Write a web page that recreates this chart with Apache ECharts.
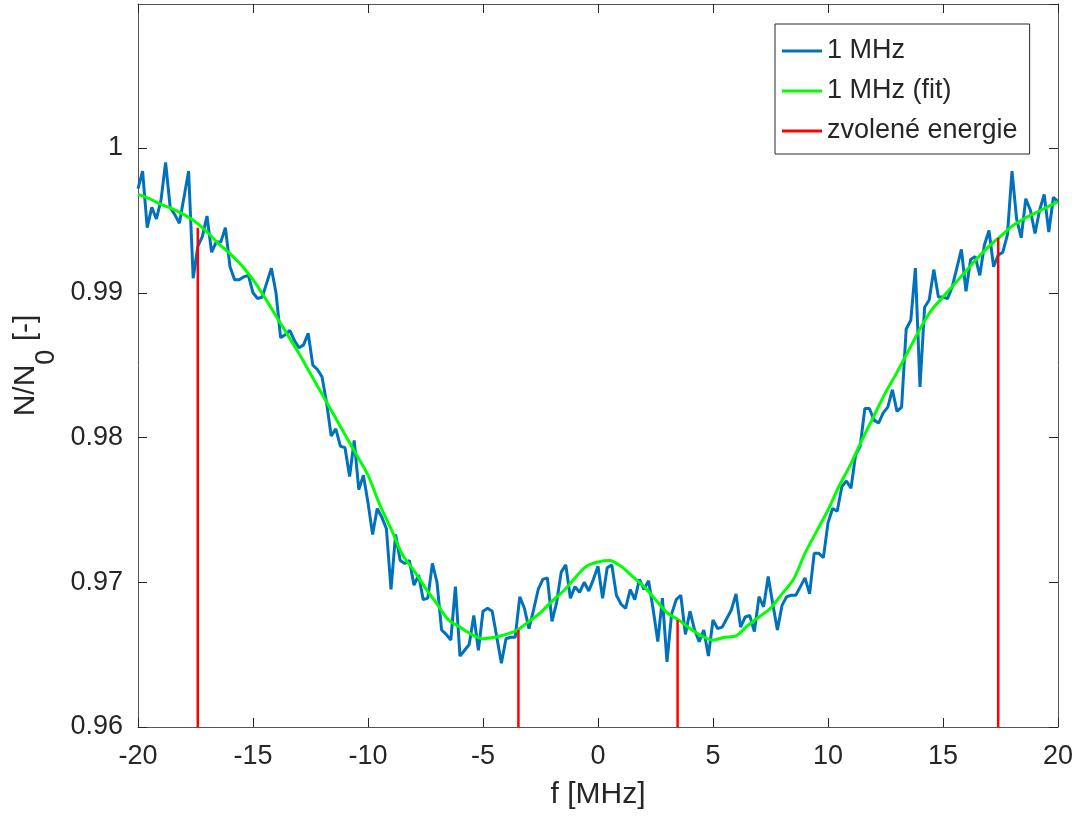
<!DOCTYPE html>
<html><head><meta charset="utf-8">
<script src="https://cdn.jsdelivr.net/npm/echarts@6/dist/echarts.min.js"></script>
<style>html,body{margin:0;padding:0;background:#fff}#c{width:1081px;height:816px}</style>
</head><body><div id="c"></div>
<script>
// measured N/N0, sampled from -20 MHz in 0.2 MHz steps
const freqStart = -20, freqStep = 0.2;
const measured = [
0.9972,0.9984,0.9945,0.9959,0.9951,0.9964,0.9990,0.9959,0.9954,0.9948,
0.9966,0.9984,0.9910,0.9932,0.9939,0.9953,0.9928,0.9935,0.9935,0.9945,
0.9918,0.9909,0.9909,0.9911,0.9912,0.9900,0.9896,0.9897,0.9907,0.9917,
0.9900,0.9869,0.9871,0.9874,0.9867,0.9862,0.9864,0.9872,0.9850,0.9847,
0.9842,0.9824,0.9801,0.9806,0.9794,0.9793,0.9773,0.9798,0.9764,0.9774,
0.9755,0.9733,0.9751,0.9745,0.9737,0.9695,0.9733,0.9715,0.9713,0.9715,
0.9698,0.9705,0.9688,0.9689,0.9713,0.9700,0.9667,0.9664,0.9660,0.9697,
0.9649,0.9653,0.9657,0.9677,0.9653,0.9680,0.9682,0.9680,0.9662,0.9644,
0.9661,0.9662,0.9662,0.9690,0.9682,0.9668,0.9681,0.9695,0.9702,0.9703,
0.9673,0.9686,0.9707,0.9712,0.9689,0.9697,0.9693,0.9700,0.9694,0.9702,
0.9711,0.9689,0.9710,0.9712,0.9691,0.9685,0.9682,0.9695,0.9688,0.9702,
0.9695,0.9701,0.9681,0.9659,0.9689,0.9645,0.9678,0.9688,0.9691,0.9664,
0.9680,0.9667,0.9659,0.9667,0.9649,0.9674,0.9668,0.9669,0.9675,0.9681,
0.9692,0.9669,0.9676,0.9677,0.9666,0.9690,0.9683,0.9704,0.9685,0.9667,
0.9684,0.9690,0.9691,0.9691,0.9697,0.9703,0.9692,0.9720,0.9720,0.9717,
0.9741,0.9751,0.9749,0.9766,0.9770,0.9765,0.9788,0.9794,0.9820,0.9820,
0.9812,0.9810,0.9817,0.9821,0.9833,0.9818,0.9821,0.9875,0.9881,0.9917,
0.9835,0.9890,0.9895,0.9916,0.9897,0.9897,0.9896,0.9904,0.9917,0.9930,
0.9901,0.9923,0.9925,0.9912,0.9933,0.9943,0.9918,0.9926,0.9928,0.9940,
0.9984,0.9951,0.9938,0.9965,0.9957,0.9941,0.9957,0.9968,0.9942,0.9966,
0.9963];
// fitted curve, sampled from -20 MHz in 0.5 MHz steps
const fitStart = -20, fitStep = 0.5;
const fitted = [
0.9968,0.9965,0.9961,0.9958,0.9954,0.9949,0.9942,0.9934,0.9927,0.9919,
0.9909,0.9897,0.9884,0.9871,0.9858,0.9844,0.9830,0.9816,0.9802,0.9788,
0.9774,0.9754,0.9737,0.9719,0.9708,0.9696,0.9685,0.9674,0.9669,0.9664,
0.9661,0.9662,0.9664,0.9667,0.9673,0.9679,0.9687,0.9694,0.9703,0.9711,
0.9714,0.9715,0.9711,0.9704,0.9697,0.9688,0.9679,0.9674,0.9668,0.9663,
0.9660,0.9662,0.9663,0.9670,0.9676,0.9682,0.9692,0.9702,0.9720,0.9735,
0.9750,0.9767,0.9782,0.9799,0.9815,0.9831,0.9845,0.9860,0.9875,0.9888,
0.9897,0.9906,0.9915,0.9924,0.9932,0.9939,0.9946,0.9951,0.9955,0.9959,
0.9963];
// chosen energies (vertical markers)
const energyF = [-17.4, -3.46, 3.46, 17.4];
const energyTop = [0.9945, 0.9667, 0.9674, 0.9938];
const yMin = 0.96;

const seriesNames = ['1 MHz', '1 MHz (fit)', 'zvolené energie'];
const xTicks = { min: -20, max: 20, interval: 5 };
const yTicks = { min: 0.96, max: 1.00995, interval: 0.01 };

const FONT = 'Liberation Sans';
const TXT = '#262626';
const AX = '#555';

const measData = measured.map((v, i) => [freqStart + i * freqStep, v]);
const fitData = fitted.map((v, i) => [fitStart + i * fitStep, v]);

const series = [
  { name: seriesNames[0], type: 'line', data: measData, showSymbol: false, symbol: 'none',
    lineStyle: { color: '#0072BD', width: 3 }, itemStyle: { color: '#0072BD' }, z: 2, animation: false },
  { name: seriesNames[1], type: 'line', data: fitData, showSymbol: false, symbol: 'none', smooth: 0.3,
    lineStyle: { color: '#00FF00', width: 3 }, itemStyle: { color: '#00FF00' }, z: 3, animation: false }
];
energyF.forEach((f, i) => {
  series.push({ name: seriesNames[2], type: 'line', data: [[f, yMin], [f, energyTop[i]]],
    showSymbol: false, symbol: 'none', lineStyle: { color: '#FF0000', width: 2.5 },
    itemStyle: { color: '#FF0000' }, z: 4, animation: false });
});

const baseX = (pos) => ({
  type: 'value', position: pos, min: xTicks.min, max: xTicks.max, interval: xTicks.interval,
  axisLine: { show: true, onZero: false, lineStyle: { color: AX, width: 1 } },
  axisTick: { show: true, inside: true, length: 9, lineStyle: { color: TXT } },
  splitLine: { show: false }
});
const baseY = (pos) => ({
  type: 'value', position: pos, min: yTicks.min, max: yTicks.max, interval: yTicks.interval,
  axisLine: { show: true, onZero: false, lineStyle: { color: AX, width: 1 } },
  axisTick: { show: true, inside: true, length: 9, lineStyle: { color: TXT } },
  splitLine: { show: false }
});

const x0 = baseX('bottom');
x0.axisLabel = { fontSize: 27, color: TXT, fontFamily: FONT, margin: 16 };
x0.name = 'f [MHz]'; x0.nameLocation = 'middle'; x0.nameGap = 53;
x0.nameTextStyle = { fontSize: 30, color: TXT, fontFamily: FONT };
const x1 = baseX('top'); x1.axisLabel = { show: false };

const y0 = baseY('left');
y0.axisLabel = { fontSize: 27, color: TXT, fontFamily: FONT, margin: 15, showMaxLabel: false,
  formatter: v => String(Math.round(v * 100) / 100) };
y0.name = '{a|N/N}{b|0}{a| [-]}'; y0.nameLocation = 'middle'; y0.nameGap = 78;
y0.nameTextStyle = { color: TXT, fontFamily: FONT, rich: {
  a: { fontSize: 30, fontFamily: FONT, color: TXT, verticalAlign: 'top', lineHeight: 34 },
  b: { fontSize: 27, fontFamily: FONT, color: TXT, verticalAlign: 'top', lineHeight: 34, padding: [22, 0, 0, 0] }
} };
const y1 = baseY('right'); y1.axisLabel = { show: false };

const chart = echarts.init(document.getElementById('c'), null, { renderer: 'canvas' });
chart.setOption({
  animation: false,
  backgroundColor: '#fff',
  textStyle: { fontFamily: FONT },
  grid: { left: 138, right: 23, top: 4, bottom: 89, containLabel: false },
  legend: {
    data: seriesNames, orient: 'vertical', left: 775, top: 24,
    padding: [12, 12, 8, 7], itemGap: 10, itemWidth: 40, itemHeight: 3, icon: 'rect',
    borderColor: TXT, borderWidth: 1, backgroundColor: '#fff',
    textStyle: { fontSize: 27, color: TXT, fontFamily: FONT, lineHeight: 30 }
  },
  xAxis: [x0, x1],
  yAxis: [y0, y1],
  series: series
});
</script></body></html>
